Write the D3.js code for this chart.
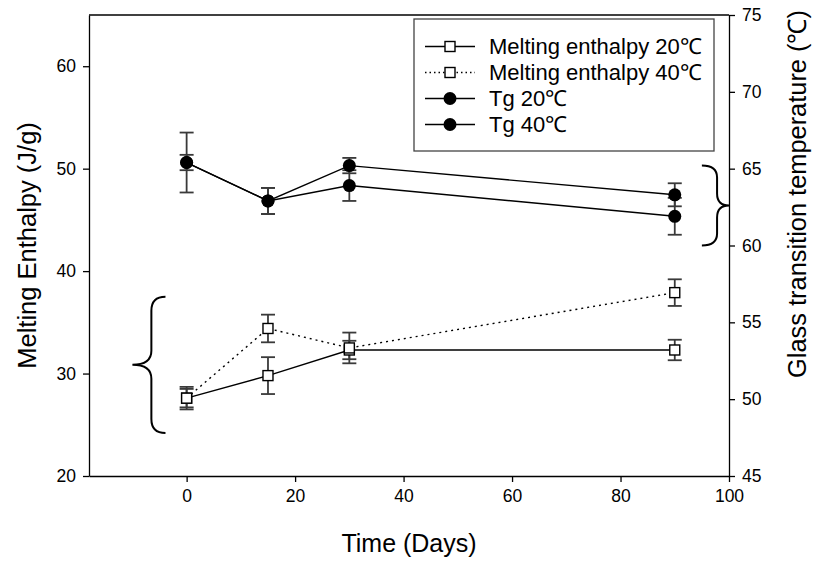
<!DOCTYPE html>
<html>
<head>
<meta charset="utf-8">
<script src="https://cdn.jsdelivr.net/npm/d3@7"></script>
<style>
  body { margin: 0; background: #fff; }
  text { font-family: "Liberation Sans", Arial, sans-serif; fill: #000; }
</style>
</head>
<body>
<div id="wrapper"></div>
<script>
// storage days
const days = [0, 15, 30, 90];

// melting enthalpy (J/g), left axis
const melt20 = [27.6, 29.8, 32.3, 32.3];
const melt20Err = [1.1, 1.8, 0.9, 1.0];
const melt40 = [27.6, 34.4, 32.5, 37.9];
const melt40Err = [0.9, 1.35, 1.5, 1.3];

// glass transition temperature (C), right axis
const tg20 = [65.4, 62.9, 65.2, 63.3];
const tg20Err = [0.5, 0.85, 0.5, 0.75];
const tg40 = [65.4, 62.9, 63.9, 61.9];
const tg40Err = [1.95, 0.85, 1.0, 1.2];

const xTicks = [0, 20, 40, 60, 80, 100];
const yLeftTicks = [20, 30, 40, 50, 60];
const yRightTicks = [45, 50, 55, 60, 65, 70, 75];

const legendLabels = ["Melting enthalpy 20\u2103", "Melting enthalpy 40\u2103", "Tg 20\u2103", "Tg 40\u2103"];

const dimentions = {
    width: 814,
    height: 562,
    margin: { top: 15, right: 85, bottom: 86, left: 89 }
};
dimentions.boundedWidth = dimentions.width - dimentions.margin.left - dimentions.margin.right;
dimentions.boundedHeight = dimentions.height - dimentions.margin.top - dimentions.margin.bottom;

const wrapper = d3.select("#wrapper")
    .append("svg")
    .attr("width", dimentions.width)
    .attr("height", dimentions.height);

const bounds = wrapper.append("g")
    .attr("transform", `translate(${dimentions.margin.left},${dimentions.margin.top})`);

const xScale = d3.scaleLinear().domain([-18, 100]).range([0, dimentions.boundedWidth]);
const yLeft = d3.scaleLinear().domain([20, 65]).range([dimentions.boundedHeight, 0]);
const yRight = d3.scaleLinear().domain([45, 75]).range([dimentions.boundedHeight, 0]);

// frame top line
bounds.append("line")
    .attr("x1", 0).attr("x2", dimentions.boundedWidth)
    .attr("y1", 0).attr("y2", 0)
    .attr("stroke", "#000").attr("stroke-width", 1.3);

// axes
const styleAxis = g => {
    g.attr("font-size", null).attr("font-family", null);
    g.selectAll("path").attr("stroke", "#000").attr("stroke-width", 1.3);
    g.selectAll("line").attr("stroke", "#000").attr("stroke-width", 1.3);
    g.selectAll("text").style("font-size", "17.5px").attr("fill", "#000");
};

bounds.append("g")
    .attr("transform", `translate(0,${dimentions.boundedHeight})`)
    .call(d3.axisBottom(xScale).tickValues(xTicks).tickSize(6).tickSizeOuter(0).tickPadding(8))
    .call(styleAxis);

bounds.append("g")
    .call(d3.axisLeft(yLeft).tickValues(yLeftTicks).tickSize(6).tickSizeOuter(0).tickPadding(7))
    .call(styleAxis);

bounds.append("g")
    .attr("transform", `translate(${dimentions.boundedWidth},0)`)
    .call(d3.axisRight(yRight).tickValues(yRightTicks).tickSize(6).tickSizeOuter(0).tickPadding(7))
    .call(styleAxis);

// axis titles
wrapper.append("text")
    .attr("x", dimentions.margin.left + dimentions.boundedWidth / 2)
    .attr("y", 552)
    .attr("text-anchor", "middle")
    .style("font-size", "25px")
    .text("Time (Days)");

wrapper.append("text")
    .attr("transform", `translate(36,${dimentions.margin.top + dimentions.boundedHeight / 2}) rotate(-90)`)
    .attr("text-anchor", "middle")
    .style("font-size", "25.5px")
    .text("Melting Enthalpy (J/g)");

wrapper.append("text")
    .attr("transform", "translate(806,194) rotate(-90)")
    .attr("text-anchor", "middle")
    .style("font-size", "25.4px")
    .text("Glass transition temperature (\u2103)");

// series
const series = [
    { vals: melt20, err: melt20Err, y: yLeft, dash: null, marker: "square" },
    { vals: melt40, err: melt40Err, y: yLeft, dash: "2,4", marker: "square" },
    { vals: tg20, err: tg20Err, y: yRight, dash: null, marker: "circle" },
    { vals: tg40, err: tg40Err, y: yRight, dash: null, marker: "circle" }
];

// error bars
series.forEach(s => {
    const pts = days.map((d, i) => ({ x: d, v: s.vals[i], e: s.err[i] }));
    const eb = bounds.append("g").attr("stroke", "#3a3a3a").attr("stroke-width", 1.8);
    eb.selectAll(".v").data(pts).enter().append("line")
        .attr("x1", d => xScale(d.x)).attr("x2", d => xScale(d.x))
        .attr("y1", d => s.y(d.v - d.e)).attr("y2", d => s.y(d.v + d.e));
    [-1, 1].forEach(sign => {
        eb.selectAll(".c" + sign).data(pts).enter().append("line")
            .attr("x1", d => xScale(d.x) - 7).attr("x2", d => xScale(d.x) + 7)
            .attr("y1", d => s.y(d.v + sign * d.e)).attr("y2", d => s.y(d.v + sign * d.e));
    });
});

// lines
series.forEach(s => {
    const line = d3.line().x((d, i) => xScale(days[i])).y(d => s.y(d));
    bounds.append("path")
        .attr("d", line(s.vals))
        .attr("fill", "none")
        .attr("stroke", "#000")
        .attr("stroke-width", 1.4)
        .attr("stroke-dasharray", s.dash);
});

// markers
const drawMarker = (g, type, cx, cy) => {
    if (type === "square") {
        g.append("rect")
            .attr("x", cx - 5).attr("y", cy - 5)
            .attr("width", 10).attr("height", 10)
            .attr("fill", "#fff").attr("stroke", "#000").attr("stroke-width", 1.4);
    } else {
        g.append("circle")
            .attr("cx", cx).attr("cy", cy).attr("r", 6.5)
            .attr("fill", "#000");
    }
};

series.forEach(s => {
    s.vals.forEach((v, i) => drawMarker(bounds, s.marker, xScale(days[i]), s.y(v)));
});

// braces (annotation)
const brace = (xEnd, xSpine, xTip, yTop, yBot, r) => {
    const yMid = (yTop + yBot) / 2;
    const dir = yBot > yTop ? 1 : -1;
    return `M${xEnd},${yTop} Q${xSpine},${yTop} ${xSpine},${yTop + dir * r}` +
        ` L${xSpine},${yMid - dir * r} Q${xSpine},${yMid} ${xTip},${yMid}` +
        ` Q${xSpine},${yMid} ${xSpine},${yMid + dir * r}` +
        ` L${xSpine},${yBot - dir * r} Q${xSpine},${yBot} ${xEnd},${yBot}`;
};

bounds.append("path")
    .attr("d", brace(xScale(-3.9), xScale(-6.5), xScale(-10), yLeft(37.5), yLeft(24.2), 14))
    .attr("fill", "none").attr("stroke", "#000").attr("stroke-width", 2);

bounds.append("path")
    .attr("d", brace(xScale(95.0), xScale(97.8), xScale(100), yRight(65.2), yRight(60.0), 12))
    .attr("fill", "none").attr("stroke", "#000").attr("stroke-width", 2);

// legend
const legend = wrapper.append("g");
legend.append("rect")
    .attr("x", 414).attr("y", 19)
    .attr("width", 300).attr("height", 132)
    .attr("fill", "#fff").attr("stroke", "#444").attr("stroke-width", 1.3);

legendLabels.forEach((label, i) => {
    const s = series[i];
    const y = 46.5 + i * 26;
    legend.append("line")
        .attr("x1", 425).attr("x2", 475)
        .attr("y1", y).attr("y2", y)
        .attr("stroke", "#000").attr("stroke-width", 1.4)
        .attr("stroke-dasharray", s.dash ? "1.5,3" : null);
    drawMarker(legend, s.marker, 450, y);
    legend.append("text")
        .attr("x", 489).attr("y", y)
        .attr("dy", "0.35em")
        .style("font-size", "22px")
        .text(label);
});
</script>
</body>
</html>
